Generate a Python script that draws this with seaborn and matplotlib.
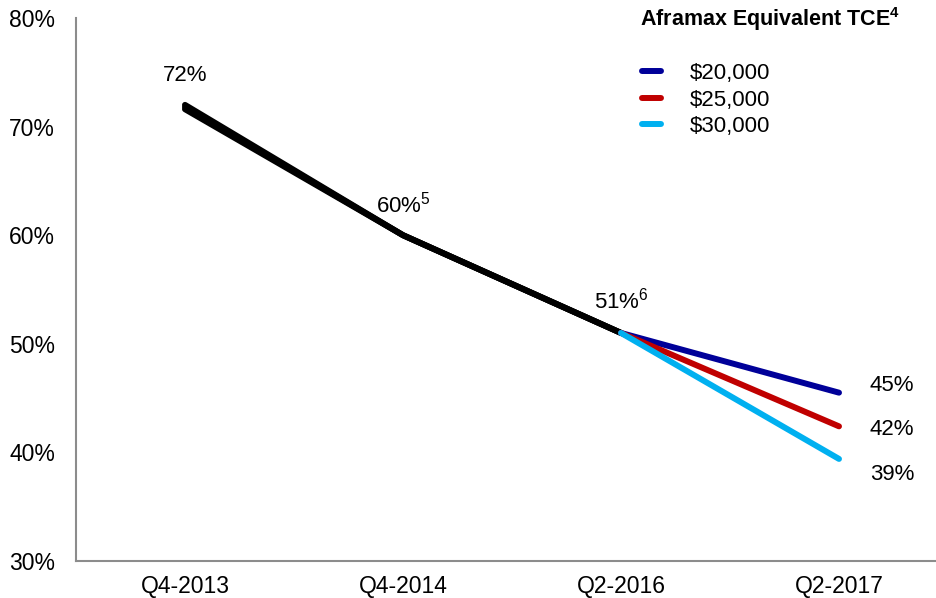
import matplotlib
matplotlib.use("Agg")
import matplotlib.pyplot as plt
from matplotlib.lines import Line2D
import seaborn as sns
import pandas as pd

# chart data
quarters = ["Q4-2013", "Q4-2014", "Q2-2016", "Q2-2017"]
history = [72.0, 60.0, 51.0]
history_starts = [72.0, 71.8, 71.6]  # the three black lines almost overlap
tce_labels = ["$20,000", "$25,000", "$30,000"]
q2_2017 = [45.5, 42.4, 39.4]
tce_colors = ["#000099", "#C00000", "#00B0F0"]
point_labels = ["72%", r"60%$^{\mathrm{5}}$", r"51%$^{\mathrm{6}}$"]
end_labels = ["45%", "42%", "39%"]

sns.set_style("white")
plt.rcParams["font.family"] = ["Liberation Sans", "DejaVu Sans"]
plt.rcParams["text.color"] = "black"
plt.rcParams["xtick.labelcolor"] = "black"
plt.rcParams["ytick.labelcolor"] = "black"
plt.rcParams["mathtext.fontset"] = "custom"
plt.rcParams["mathtext.rm"] = "Liberation Sans"
plt.rcParams["mathtext.it"] = "Liberation Sans:italic"
plt.rcParams["mathtext.bf"] = "Liberation Sans:bold"

rows = []
for tce, start, end in zip(tce_labels, history_starts, q2_2017):
    hist_vals = [start, history[1], history[2]]
    for q, v in zip(quarters[:3], hist_vals):
        rows.append({"quarter": q, "value": v, "series": "hist " + tce})
    for q, v in zip(quarters[2:], [history[2], end]):
        rows.append({"quarter": q, "value": v, "series": tce})
df = pd.DataFrame(rows)

palette = {"hist " + t: "black" for t in tce_labels}
palette.update(dict(zip(tce_labels, tce_colors)))
hue_order = ["hist " + t for t in tce_labels] + tce_labels

fig = plt.figure(figsize=(9.36, 5.98), dpi=100)
ax = fig.add_axes([76 / 936, 37 / 598, 872 / 936, 543 / 598])

sns.lineplot(data=df, x="quarter", y="value", hue="series", hue_order=hue_order,
             palette=palette, linewidth=4.3, legend=False, ax=ax,
             solid_capstyle="round", sort=False)

ax.set_xlim(-0.5, 3.5)
ax.set_ylim(30, 80)
ax.set_yticks(range(30, 81, 10))
ax.set_yticklabels([f"{v}%" for v in range(30, 81, 10)])
ax.set_xticks(range(len(quarters)))
ax.set_xticklabels(quarters)
ax.set_xticks([-0.5, 0.5, 1.5, 2.5, 3.5], minor=True)
ax.tick_params(axis="x", which="major", length=0, pad=10, labelsize=16.5)
ax.tick_params(axis="x", which="minor", length=6, width=1.2, color="#8C8C8C", direction="out")
ax.tick_params(axis="y", length=6, width=1.2, color="#8C8C8C", direction="out", pad=9, labelsize=16.5)
ax.set_xlabel("")
ax.set_ylabel("")
for s in ["top", "right"]:
    ax.spines[s].set_visible(False)
for s in ["left", "bottom"]:
    ax.spines[s].set_color("#8C8C8C")
    ax.spines[s].set_linewidth(1.5)

# value labels
label_offsets = [(0, 29), (0, 31), (0, 32)]
for i, (lab, v) in enumerate(zip(point_labels, history)):
    ax.annotate(lab, (quarters[i], v), xytext=label_offsets[i], textcoords="offset pixels",
                ha="center", va="center", fontsize=16)
end_offsets = [7, -3, -16]
for lab, v, dy in zip(end_labels, q2_2017, end_offsets):
    ax.annotate(lab, (quarters[3], v), xytext=(31, dy), textcoords="offset pixels",
                ha="left", va="center", fontsize=16)

# legend
fig.text(640 / 936, 1 - 19 / 598, r"Aframax Equivalent TCE$^{\mathbf{4}}$", fontsize=15.5,
         fontweight="bold", ha="left", va="center")
handles = [Line2D([0], [0], color=c, lw=4.3) for c in tce_colors]
ax.legend(handles, tce_labels, loc="upper left", bbox_to_anchor=(642 / 936, 1 - 63 / 598),
          bbox_transform=fig.transFigure, frameon=False, fontsize=16,
          handlelength=0.85, handletextpad=1.3, labelspacing=0.25,
          borderpad=0, borderaxespad=0)

fig.savefig("out.png", dpi=100)
